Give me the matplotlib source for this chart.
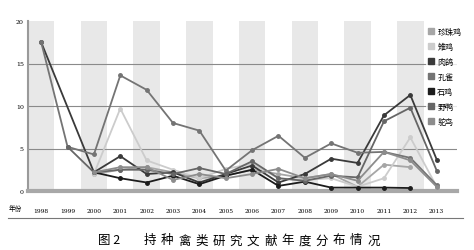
import matplotlib.pyplot as plt
import matplotlib.patches as mpatches
import numpy as np

plt.rcParams['font.family'] = ['Noto Sans CJK SC', 'DejaVu Sans']

years = ['1998', '1999', '2000', '2001', '2002', '2003', '2004', '2005',
         '2006', '2007', '2008', '2009', '2010', '2011', '2012', '2013']
names = ['珍珠鸡', '雉鸡', '肉鸽', '孔雀', '石鸡', '野鸭', '鸵鸟']
colors = ['#a6a6a6', '#cccccc', '#3a3a3a', '#747474', '#1c1c1c', '#666666', '#8c8c8c']
nan = np.nan

zhenzhuji = [nan, nan, 2.0, 2.5, 2.8, 2.2, 1.5, 1.8, 2.5, 2.0, 1.5, 2.0, 0.5, 3.1, 2.8, nan]
zhiji = [nan, nan, 2.0, 9.7, 3.6, 2.5, 1.5, 2.6, 3.2, 1.5, 1.3, 1.5, 0.5, 1.5, 6.3, 0.5]
rouge = [17.5, nan, 2.2, 4.1, 2.0, 2.2, 1.0, 2.0, 3.0, 1.0, 2.0, 3.8, 3.3, 8.9, 11.3, 3.7]
kongque = [17.5, 5.2, 4.3, 13.6, 11.9, 8.0, 7.1, 2.4, 4.8, 6.5, 3.9, 5.6, 4.5, 4.6, 3.9, 0.7]
shiji = [nan, nan, 2.2, 1.5, 1.0, 1.8, 0.8, 1.8, 2.5, 0.6, 1.1, 0.4, 0.4, 0.4, 0.35, nan]
yeya = [nan, 5.2, 2.2, 2.5, 2.5, 2.0, 2.7, 2.0, 3.5, 1.5, 1.2, 1.8, 1.6, 8.2, 9.8, 2.4]
tuoniao = [nan, nan, 2.2, 2.8, 2.8, 1.3, 2.0, 1.5, 2.0, 2.6, 1.5, 2.0, 1.2, 4.6, 3.6, 0.5]
series = [zhenzhuji, zhiji, rouge, kongque, shiji, yeya, tuoniao]

fig = plt.figure(figsize=(4.74, 2.51), dpi=100)
ax = fig.add_axes([28/474, 59/251, (457-28)/474, (192-22)/251])
x = np.arange(len(years))

# 灰色间隔底纹
for i in range(0, len(years), 2):
    ax.axvspan(i-0.5, i+0.5, color='#e8e8e8', lw=0, zorder=0)
for g in [5, 10, 15]:
    ax.axhline(g, color='#8a8a8a', lw=0.8, zorder=1)

for vals, c in zip(series, colors):
    v = np.array(vals, dtype=float)
    m = ~np.isnan(v)
    ax.plot(x[m], v[m], color=c, lw=1.3, marker='o', ms=2.5, zorder=3)

ax.set_xlim(-0.5, 15.77)
ax.set_ylim(0, 20)
ax.set_xticks(x)
ax.set_xticklabels(years, fontsize=4.3, family='DejaVu Serif')
ax.set_yticks([0, 5, 10, 15, 20])
ax.set_yticklabels(['0', '5', '10', '15', '20'], fontsize=4.5, family='DejaVu Serif')
ax.tick_params(length=0, pad=3)
ax.tick_params(axis='x', pad=12)
for s in ['top', 'right']:
    ax.spines[s].set_visible(False)
ax.spines['left'].set_color('#9a9a9a')
ax.spines['left'].set_linewidth(1.5)
ax.spines['bottom'].set_color('#a8a8a8')
ax.spines['bottom'].set_linewidth(3)

handles = [mpatches.Patch(color=c, label=n) for n, c in zip(names, colors)]
leg = fig.legend(handles=handles, loc='upper left', bbox_to_anchor=(426/474, 1-26/251),
                 fontsize=5.8, frameon=True, handlelength=0.8, handleheight=0.8,
                 handletextpad=0.4, labelspacing=0.75, borderpad=0.2, borderaxespad=0)
leg.get_frame().set_edgecolor('none')
leg.get_frame().set_facecolor('white')

fig.text(15/474, 1-209/251, '年份', fontsize=4.8, ha='center', va='center')
fig.add_artist(plt.Line2D([8/474, 463/474], [1-219/251, 1-219/251], color='#777777', lw=0.8))

fig.text(98/474, 1-241/251, '图 2', fontsize=9, ha='left', va='center')
title = '持种禽类研究文献年度分布情况'
for k, ch in enumerate(title):
    fig.text((150 + k*17.2)/474, 1-241/251, ch, fontsize=9, ha='center', va='center')

fig.savefig('out.png', dpi=100)
